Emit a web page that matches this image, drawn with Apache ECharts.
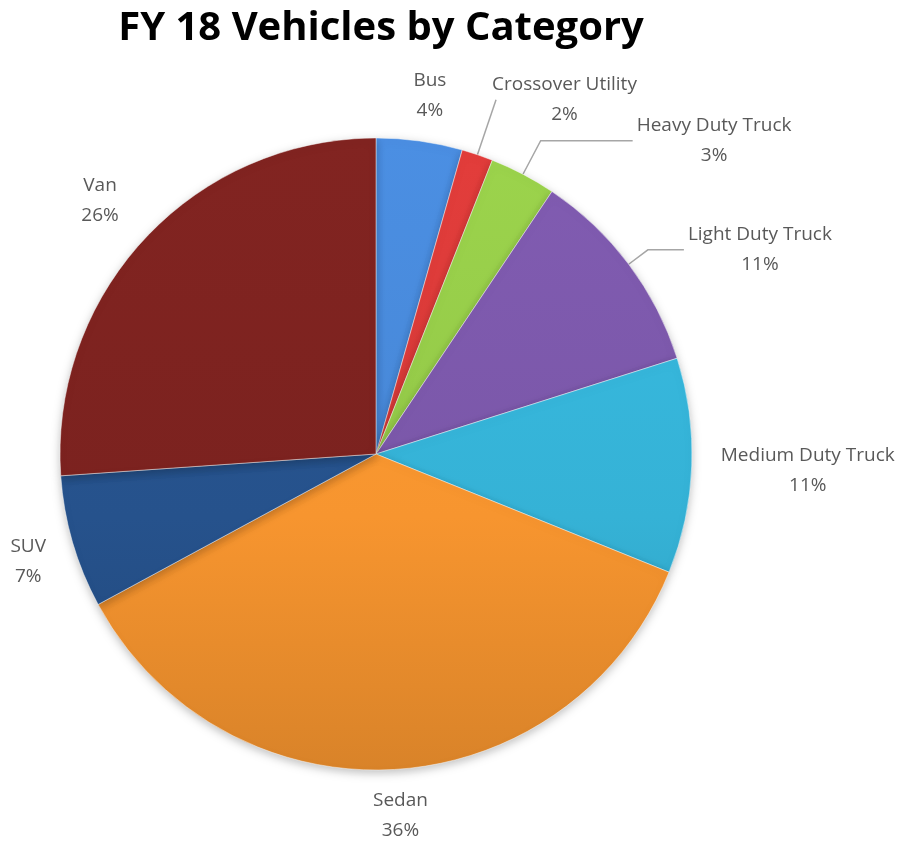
<!DOCTYPE html>
<html>
<head>
<meta charset="utf-8">
<script src="https://cdn.jsdelivr.net/npm/echarts@6/dist/echarts.min.js"></script>
<style>
  html, body { margin: 0; padding: 0; background: #fff; }
  #chart { width: 919px; height: 844px; }
</style>
</head>
<body>
<div id="chart"></div>
<script>
// категории и доли (в процентах), по часовой стрелке от 12 часов
const categories = ['Bus', 'Crossover Utility', 'Heavy Duty Truck', 'Light Duty Truck',
  'Medium Duty Truck', 'Sedan', 'SUV', 'Van'];
const shares = [4.4, 1.6, 3.4, 10.7, 11.0, 36.0, 6.8, 26.1];

// оформление: цвета и подписи отдельно от данных
const COLORS = ['#4787d6', '#d63a38', '#93c848', '#7a57a8', '#35b2d6', '#f7952f', '#26528c', '#7b221f'];
// line — есть ли выноска; len/len2 — длины выноски; center — подпись по центру; dy — подвинуть
const LABEL_CFG = {
  'Bus':               { line: false, len: 46, len2: 0, center: true },
  'Crossover Utility': { line: true,  len: 58, len2: 0, dx: -8 },
  'Heavy Duty Truck':  { line: true,  len: 38, len2: 92 },
  'Light Duty Truck':  { line: true,  len: 24, len2: 36 },
  'Medium Duty Truck': { line: false, len: 25, len2: 0, dy: 4 },
  'Sedan':             { line: false, len: 46, len2: 0, center: true },
  'SUV':               { line: false, len: 42, len2: 0, center: true, dy: 8 },
  'Van':               { line: false, len: 56, len2: 0, center: true },
};

const CX = 376, CY = 454, R = 316;
const FONT = '"Open Sans", sans-serif';

function shade(hex, k) {
  const n = parseInt(hex.slice(1), 16);
  const f = (c) => Math.max(0, Math.min(255, Math.round(c * k)));
  return `rgb(${f(n >> 16)},${f((n >> 8) & 255)},${f(n & 255)})`;
}

const chart = echarts.init(document.getElementById('chart'));

const data = categories.map((name, i) => {
  const c = LABEL_CFG[name];
  return {
    name,
    value: shares[i],
    itemStyle: {
      // общий вертикальный градиент: сверху светлее, снизу темнее
      color: {
        type: 'linear', global: true, x: 0, y: CY - R, x2: 0, y2: CY + R,
        colorStops: [
          { offset: 0, color: shade(COLORS[i], 1.06) },
          { offset: 0.6, color: COLORS[i] },
          { offset: 1, color: shade(COLORS[i], 0.88) },
        ],
      },
    },
    labelLine: { show: c.line, length: c.len, length2: c.len2 },
  };
});

chart.setOption({
  animation: false,
  title: {
    text: 'FY 18 Vehicles by Category',
    left: CX, top: 4, textAlign: 'center',
    textStyle: { fontFamily: FONT, fontWeight: 'bold', fontSize: 40, color: '#000' },
  },
  series: [{
    type: 'pie',
    center: [CX, CY],
    radius: R,
    startAngle: 90,
    clockwise: true,
    percentPrecision: 0,
    avoidLabelOverlap: false,
    itemStyle: {
      borderColor: 'rgba(255,255,255,0.45)', borderWidth: 1,
      shadowBlur: 10, shadowColor: 'rgba(0,0,0,0.25)', shadowOffsetY: 3,
    },
    label: {
      position: 'outside',
      formatter: '{a|{b}}\n{a|{d}%}',
      distanceToLabelLine: 4,
      rich: { a: { align: 'center', fontFamily: FONT, fontSize: 19, lineHeight: 30, color: '#595959' } },
    },
    labelLine: { lineStyle: { color: '#a6a6a6', width: 1.5 }, smooth: false },
    labelLayout: function (p) {
      const c = LABEL_CFG[categories[p.dataIndex]];
      const out = {};
      if (c.center) out.align = 'center';
      if (c.dx) out.dx = c.dx;
      if (c.dy) out.dy = c.dy;
      return out;
    },
    data,
  }],
});
</script>
</body>
</html>
